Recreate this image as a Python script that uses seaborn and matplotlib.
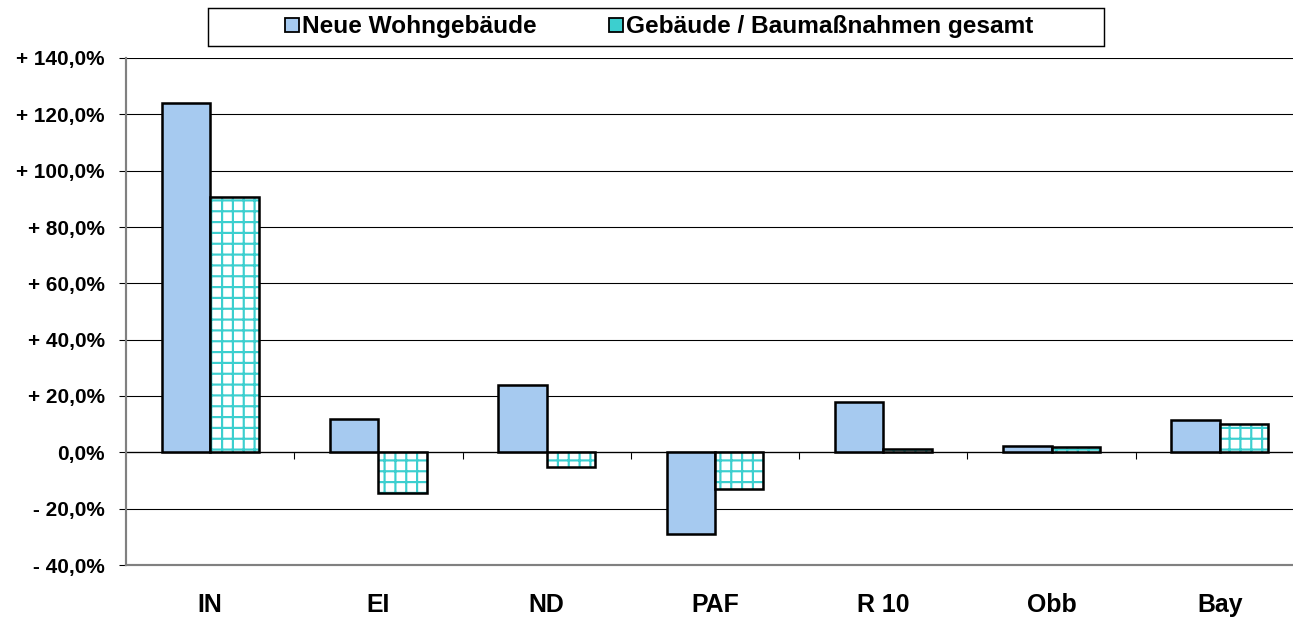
import pandas as pd
import matplotlib.pyplot as plt
from matplotlib.patches import Patch, Rectangle
import seaborn as sns

regions = ['IN', 'EI', 'ND', 'PAF', 'R 10', 'Obb', 'Bay']
neue_wohngebaeude = [124.2, 11.7, 23.9, -29.0, 17.7, 2.3, 11.4]
baumassnahmen_gesamt = [90.5, -14.4, -5.3, -12.9, 1.2, 1.9, 9.9]
series_names = ['Neue Wohngebäude', 'Gebäude / Baumaßnahmen gesamt']
y_ticks = [-40, -20, 0, 20, 40, 60, 80, 100, 120, 140]
y_tick_labels = ['- 40,0%', '- 20,0%', '0,0%', '+ 20,0%', '+ 40,0%', '+ 60,0%',
                 '+ 80,0%', '+ 100,0%', '+ 120,0%', '+ 140,0%']

blue = '#A6CAF0'
cyan = '#3CCFCF'

df = pd.DataFrame({
    'Region': regions * 2,
    'Wert': neue_wohngebaeude + baumassnahmen_gesamt,
    'Reihe': [series_names[0]] * len(regions) + [series_names[1]] * len(regions),
})

sns.set_style('white')
plt.rcParams['font.family'] = ['Liberation Sans', 'DejaVu Sans']
plt.rcParams['font.weight'] = 'bold'
plt.rcParams['text.color'] = 'black'
plt.rcParams['xtick.color'] = 'black'
plt.rcParams['ytick.color'] = 'black'
plt.rcParams['hatch.linewidth'] = 1.2

fig = plt.figure(figsize=(1293 / 130, 618 / 130), dpi=130)
ax = fig.add_axes([126 / 1293, 53 / 618, 1178 / 1293, 507 / 618])

sns.barplot(data=df, x='Region', y='Wert', hue='Reihe', hue_order=series_names,
            palette=[blue, 'white'], saturation=1, width=0.575, edgecolor='black',
            linewidth=1.4, legend=False, ax=ax)

# hatched series: cyan grid, black outline on top
for bar in ax.containers[1]:
    bar.set_hatch('++')
    bar.set_edgecolor(cyan)
    bar.set_linewidth(0)
    ax.add_patch(Rectangle(bar.get_xy(), bar.get_width(), bar.get_height(), fill=False,
                           edgecolor='black', linewidth=1.4, zorder=bar.get_zorder() + 0.1))

ax.set_ylim(-40, 140)
ax.set_xlim(-0.5, len(regions) - 0.5)
ax.set_yticks(y_ticks)
ax.set_yticklabels(y_tick_labels)
ax.yaxis.grid(True, color='black', linewidth=0.6)
ax.set_axisbelow(True)
ax.set_xlabel('')
ax.set_ylabel('')

ax.tick_params(axis='y', left=True, direction='out', length=3.9, width=0.6,
               labelsize=11.5, labelcolor='black', pad=8)
ax.tick_params(axis='x', bottom=False, labelsize=13.8, labelcolor='black', pad=12)
for lbl in ax.get_xticklabels() + ax.get_yticklabels():
    lbl.set_fontweight('bold')

for side in ['top', 'right']:
    ax.spines[side].set_visible(False)
for side in ['left', 'bottom']:
    ax.spines[side].set_color('#808080')
    ax.spines[side].set_linewidth(1.2)

# category separator ticks on the zero line
sec = ax.secondary_xaxis(40 / 180)
sec.set_xticks([i + 0.5 for i in range(len(regions) - 1)] + [len(regions) - 0.5])
sec.tick_params(direction='out', length=3.9, width=0.6, color='black', labelbottom=False)
sec.spines['bottom'].set_color('#606060')
sec.spines['bottom'].set_linewidth(0.8)

handles = [Patch(facecolor=blue, edgecolor='black', linewidth=1.0),
           Patch(facecolor=cyan, edgecolor='black', linewidth=1.0)]
fig.legend(handles, series_names, loc='center', bbox_to_anchor=(659 / 1293, 1 - 27 / 618),
           ncol=2, frameon=False, prop={'size': 13.5, 'weight': 'bold'},
           handlelength=0.55, handleheight=0.55, handletextpad=0.12, columnspacing=3.0)
fig.patches.append(Rectangle((208 / 1293, 1 - 46 / 618), 896 / 1293, 38 / 618,
                             transform=fig.transFigure, fill=False, edgecolor='black',
                             linewidth=0.8))

plt.savefig('out.png', dpi=130)
